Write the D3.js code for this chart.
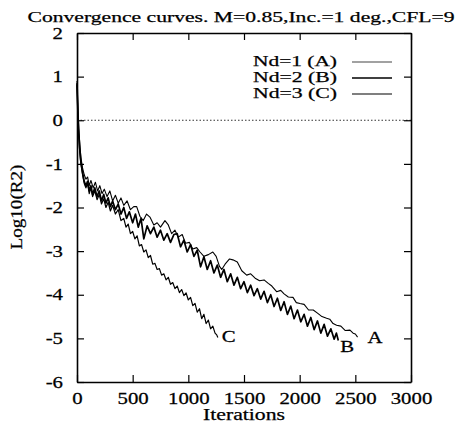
<!DOCTYPE html>
<html>
<head>
<meta charset="utf-8">
<script src="https://cdn.jsdelivr.net/npm/d3@7"></script>
<style>
  body { margin: 0; background: #fff; }
  text { font-family: "Liberation Serif", "Times New Roman", serif; fill: #000; stroke: #000; stroke-width: 0.25px; }
</style>
</head>
<body>
<svg id="chart"></svg>
<script>
// values: [iterations, log10(R2)]
const curveA = [[0,0.9],[8,0.3],[16,-0.2],[25,-0.55],[35,-0.85],[50,-1.1],[65,-1.25],[80,-1.35],[95,-1.3],[110,-1.5],[125,-1.38],[145,-1.55],[165,-1.42],[185,-1.62],[205,-1.5],[225,-1.68],[245,-1.58],[270,-1.75],[295,-1.62],[320,-1.85],[345,-1.72],[370,-1.9],[395,-1.78],[420,-1.95],[450,-1.85],[480,-2.05],[510,-1.98],[536,-1.98],[565,-2.2],[595,-2.3],[625,-2.15],[655,-2.22],[690,-2.4],[720,-2.35],[750,-2.45],[790,-2.3],[820,-2.4],[850,-2.6],[880,-2.52],[910,-2.68],[945,-2.62],[975,-2.82],[1010,-2.8],[1040,-2.95],[1075,-2.92],[1105,-3.02],[1140,-3.12],[1180,-3.08],[1220,-3.02],[1250,-3.12],[1280,-3.35],[1300,-3.42],[1330,-3.3],[1370,-3.18],[1400,-3.2],[1440,-3.25],[1480,-3.45],[1524,-3.55],[1560,-3.52],[1600,-3.62],[1640,-3.68],[1680,-3.66],[1718,-3.74],[1750,-3.8],[1793,-3.93],[1830,-3.9],[1860,-3.98],[1898,-4.05],[1940,-4.06],[1970,-4.18],[2003,-4.2],[2040,-4.22],[2080,-4.35],[2122,-4.35],[2160,-4.42],[2200,-4.5],[2242,-4.54],[2270,-4.56],[2300,-4.66],[2332,-4.7],[2370,-4.72],[2410,-4.82],[2452,-4.81],[2480,-4.88],[2500,-4.9],[2520,-4.97]];
const curveB = [[0,0.85],[8,0.2],[16,-0.3],[25,-0.65],[35,-0.95],[50,-1.2],[65,-1.4],[80,-1.5],[95,-1.4],[110,-1.62],[125,-1.5],[140,-1.7],[160,-1.55],[180,-1.75],[200,-1.62],[220,-1.85],[240,-1.7],[260,-1.9],[280,-1.78],[300,-1.98],[320,-1.85],[345,-2.05],[370,-1.92],[395,-2.15],[420,-2.0],[445,-2.25],[470,-2.1],[500,-2.35],[525,-2.15],[550,-2.45],[575,-2.25],[600,-2.72],[630,-2.42],[660,-2.6],[690,-2.45],[720,-2.68],[750,-2.52],[780,-2.75],[810,-2.6],[840,-2.8],[870,-2.62],[900,-2.6],[930,-2.9],[960,-2.75],[990,-3.02],[1020,-2.85],[1050,-3.12],[1080,-2.98],[1110,-3.36],[1140,-3.13],[1170,-3.42],[1200,-3.22],[1230,-3.5],[1260,-3.32],[1290,-3.6],[1320,-3.42],[1350,-3.7],[1380,-3.52],[1410,-3.78],[1440,-3.6],[1470,-3.86],[1500,-3.7],[1530,-3.95],[1560,-3.78],[1590,-4.02],[1620,-3.86],[1650,-4.1],[1680,-3.92],[1710,-4.18],[1740,-4.0],[1770,-4.27],[1800,-4.08],[1830,-4.36],[1860,-4.16],[1890,-4.45],[1920,-4.26],[1950,-4.55],[1980,-4.35],[2010,-4.62],[2040,-4.45],[2070,-4.72],[2100,-4.52],[2130,-4.8],[2160,-4.6],[2190,-4.88],[2220,-4.68],[2250,-4.95],[2280,-4.78],[2310,-5.02],[2330,-4.88],[2347,-5.05]];
const curveC = [[0,0.8],[8,0.1],[16,-0.4],[25,-0.75],[35,-1.0],[50,-1.25],[65,-1.45],[80,-1.55],[95,-1.45],[110,-1.68],[125,-1.55],[140,-1.75],[160,-1.62],[180,-1.82],[200,-1.7],[220,-1.92],[240,-1.8],[260,-2.0],[280,-1.88],[300,-2.08],[320,-1.95],[345,-2.15],[370,-2.05],[395,-2.3],[420,-2.25],[440,-2.45],[460,-2.38],[480,-2.6],[500,-2.55],[520,-2.72],[540,-2.65],[560,-2.88],[580,-2.85],[600,-3.02],[620,-2.97],[640,-3.15],[660,-3.1],[680,-3.3],[700,-3.28],[720,-3.42],[740,-3.4],[760,-3.55],[780,-3.52],[800,-3.66],[820,-3.6],[840,-3.76],[860,-3.72],[880,-3.86],[900,-3.8],[920,-3.95],[940,-3.88],[960,-4.02],[980,-3.96],[1000,-4.12],[1020,-4.06],[1040,-4.25],[1060,-4.2],[1080,-4.4],[1100,-4.32],[1120,-4.55],[1140,-4.45],[1160,-4.66],[1180,-4.58],[1200,-4.78],[1220,-4.72],[1240,-4.88],[1255,-4.92],[1265,-4.98]];

const seriesNames = ["Nd=1 (A)", "Nd=2 (B)", "Nd=3 (C)"];
const endLabels = ["A", "B", "C"];
const xTicks = [0, 500, 1000, 1500, 2000, 2500, 3000];
const yTicks = [-6, -5, -4, -3, -2, -1, 0, 1, 2];

const width = 463, height = 424;
const plot = {left: 77, right: 411, top: 33, bottom: 382};
const stretch = 1.3; // the scanned lettering is wide

const svg = d3.select("#chart").attr("width", width).attr("height", height);

const x = d3.scaleLinear().domain([0, 3000]).range([plot.left, plot.right]);
const y = d3.scaleLinear().domain([-6, 2]).range([plot.bottom, plot.top]);

// zero line
svg.append("line")
    .attr("x1", x(0)).attr("x2", x(3000))
    .attr("y1", y(0)).attr("y2", y(0))
    .attr("stroke", "#333").attr("stroke-width", 1)
    .attr("stroke-dasharray", "1.5,2");

const fmt = d => String(d);

const gBottom = svg.append("g").attr("transform", `translate(0,${plot.bottom})`)
    .call(d3.axisBottom(x).tickValues(xTicks).tickFormat(fmt).tickSize(-7).tickSizeOuter(0).tickPadding(11));
const gTop = svg.append("g").attr("transform", `translate(0,${plot.top})`)
    .call(d3.axisTop(x).tickValues(xTicks).tickFormat("").tickSize(-7).tickSizeOuter(0));
const gLeft = svg.append("g").attr("transform", `translate(${plot.left},0)`)
    .call(d3.axisLeft(y).tickValues(yTicks).tickFormat(fmt).tickSize(-7).tickSizeOuter(0).tickPadding(10.8));
const gRight = svg.append("g").attr("transform", `translate(${plot.right},0)`)
    .call(d3.axisRight(y).tickValues(yTicks).tickFormat("").tickSize(-7).tickSizeOuter(0));

[gBottom, gTop, gLeft, gRight].forEach(g => {
    g.select(".domain").attr("stroke", "#000").attr("stroke-width", 1.6);
    g.selectAll(".tick line").attr("stroke", "#000").attr("stroke-width", 1.2);
    g.selectAll(".tick text")
        .attr("font-family", "Liberation Serif")
        .attr("font-size", 16)
        .attr("fill", "#000")
        .attr("transform", `scale(${stretch},1)`);
});

// curves
const line = d3.line().x(d => x(d[0])).y(d => y(d[1]));
const curves = [curveA, curveB, curveC];
const widths = [1.1, 1.7, 1.2];

svg.append("g").selectAll("path")
    .data(curves)
    .join("path")
    .attr("d", line)
    .attr("fill", "none")
    .attr("stroke", "#000")
    .attr("stroke-width", (d, i) => widths[i])
    .attr("stroke-linejoin", "round");

// letters at the curve ends
const labelOffsets = [[10, 5.5], [2, 11], [4, 4.5]];
svg.append("g").selectAll("text")
    .data(curves)
    .join("text")
    .attr("transform", (d, i) => {
        const e = d[d.length - 1];
        return `translate(${x(e[0]) + labelOffsets[i][0]},${y(e[1]) + labelOffsets[i][1]}) scale(${stretch},1)`;
    })
    .attr("font-size", 16)
    .text((d, i) => endLabels[i]);

// legend
const legend = svg.append("g");
seriesNames.forEach((name, i) => {
    const ly = 62 + i * 16;
    legend.append("text")
        .attr("x", 337).attr("y", ly + 4)
        .attr("text-anchor", "end")
        .attr("font-size", 15)
        .attr("textLength", 84).attr("lengthAdjust", "spacingAndGlyphs")
        .text(name);
    legend.append("line")
        .attr("x1", 352).attr("x2", 392)
        .attr("y1", ly).attr("y2", ly)
        .attr("stroke", i === 0 ? "#444" : "#000")
        .attr("stroke-width", widths[i]);
});

// title and axis titles
svg.append("text")
    .attr("x", 241).attr("y", 22)
    .attr("text-anchor", "middle")
    .attr("font-size", 15)
    .attr("textLength", 427).attr("lengthAdjust", "spacingAndGlyphs")
    .text("Convergence curves. M=0.85,Inc.=1 deg.,CFL=9");

svg.append("text")
    .attr("x", 244).attr("y", 420)
    .attr("text-anchor", "middle")
    .attr("font-size", 16)
    .attr("textLength", 82).attr("lengthAdjust", "spacingAndGlyphs")
    .text("Iterations");

svg.append("text")
    .attr("transform", "translate(22,207) rotate(-90)")
    .attr("text-anchor", "middle")
    .attr("font-size", 16)
    .attr("textLength", 85).attr("lengthAdjust", "spacingAndGlyphs")
    .text("Log10(R2)");
</script>
</body>
</html>
